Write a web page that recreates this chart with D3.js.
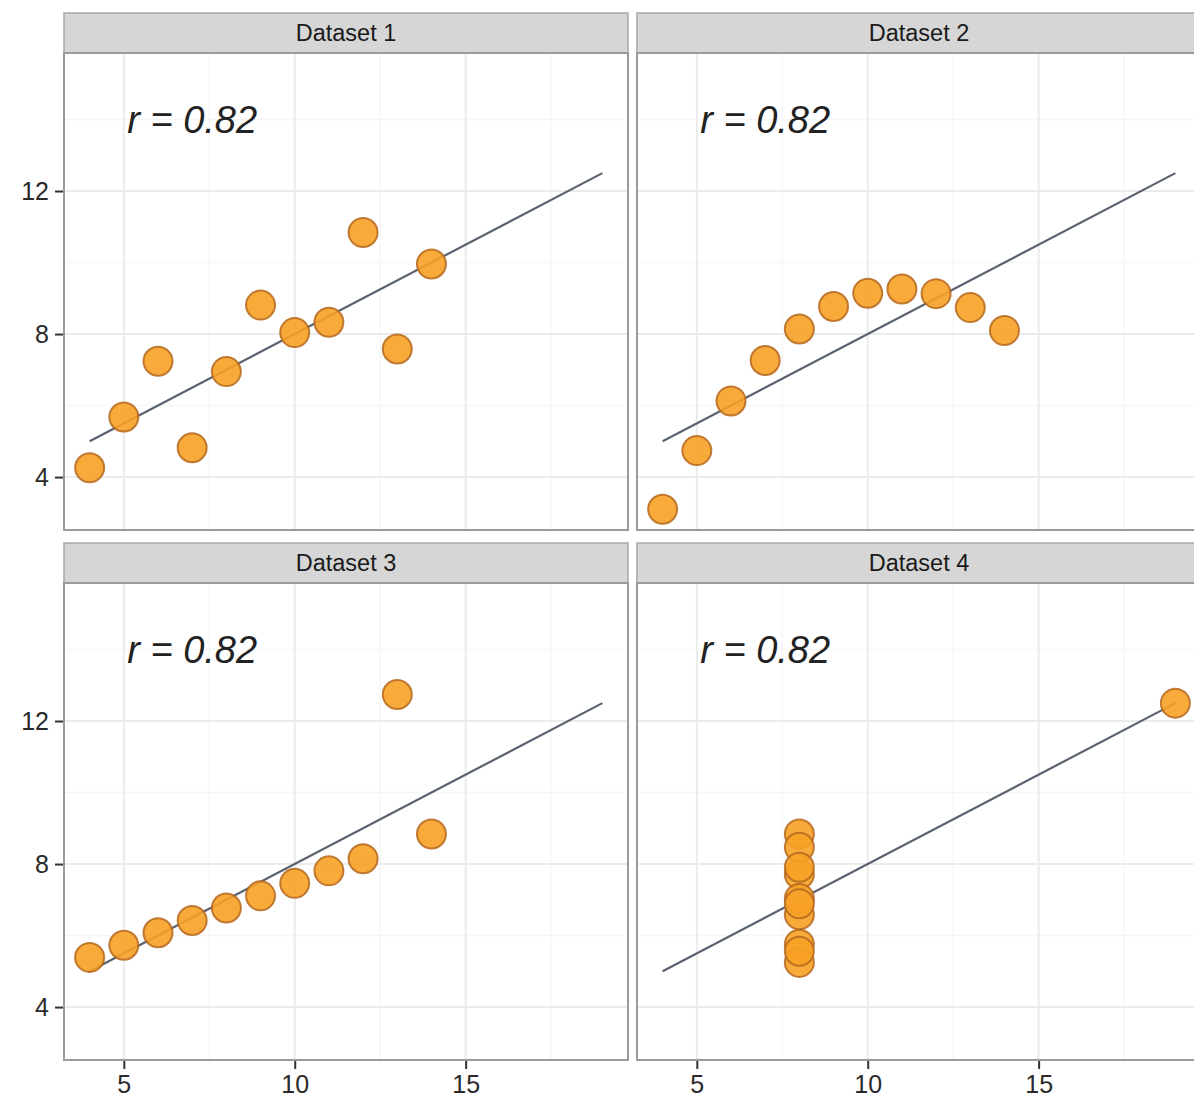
<!DOCTYPE html>
<html>
<head>
<meta charset="utf-8">
<script src="https://cdn.jsdelivr.net/npm/d3@7"></script>
<style>
  body { margin: 0; background: #ffffff; }
  svg { display: block; font-family: "Liberation Sans", Arimo, Arial, sans-serif; }
</style>
</head>
<body>
<svg id="svg" width="1194" height="1109"></svg>
<script>
// Anscombe's quartet values
const X_VALUES = [10, 8, 13, 9, 11, 14, 6, 4, 12, 7, 5];
const X4_VALUES = [8, 8, 8, 8, 8, 8, 8, 19, 8, 8, 8];
const Y1 = [8.04, 6.95, 7.58, 8.81, 8.33, 9.96, 7.24, 4.26, 10.84, 4.82, 5.68];
const Y2 = [9.14, 8.14, 8.74, 8.77, 9.26, 8.10, 6.13, 3.10, 9.13, 7.26, 4.74];
const Y3 = [7.46, 6.77, 12.74, 7.11, 7.81, 8.84, 6.08, 5.39, 8.15, 6.42, 5.73];
const Y4 = [6.58, 5.76, 7.71, 8.84, 8.47, 7.04, 5.25, 12.50, 5.56, 7.91, 6.89];

const TITLES = ["Dataset 1", "Dataset 2", "Dataset 3", "Dataset 4"];
const LABEL = "r = 0.82";
const X_TICKS = [5, 10, 15];
const X_MINOR = [7.5, 12.5, 17.5];
const Y_TICKS = [4, 8, 12];
const Y_MINOR = [6, 10, 14];
// fitted line y = 3 + 0.5x, drawn over x = 4..19
const FIT_X = [4, 19];
const FIT_A = 3, FIT_B = 0.5;

const panelsData = [
  {title: TITLES[0], xs: X_VALUES, ys: Y1},
  {title: TITLES[1], xs: X_VALUES, ys: Y2},
  {title: TITLES[2], xs: X_VALUES, ys: Y3},
  {title: TITLES[3], xs: X4_VALUES, ys: Y4}
];

//Layout
const PANEL_W = 564;
const PANEL_H = 477;
const STRIP_H = 40;
const COL_X = [64, 637];
const ROW_Y = [13, 543];

const svg = d3.select("#svg");

panelsData.forEach((p, i) => {
  const col = i % 2, row = Math.floor(i / 2);
  const left = COL_X[col];
  const top = ROW_Y[row] + STRIP_H;

  const x = d3.scaleLinear().domain([3.25, 19.75]).range([left, left + PANEL_W]);
  const y = d3.scaleLinear().domain([2.52, 15.86]).range([top + PANEL_H, top]);

  const g = svg.append("g");

  //Strip
  g.append("rect")
    .attr("x", left).attr("y", ROW_Y[row])
    .attr("width", PANEL_W).attr("height", STRIP_H)
    .attr("fill", "#d6d6d6")
    .attr("stroke", "#a8a8a8").attr("stroke-width", 1.5);
  g.append("text")
    .attr("x", left + PANEL_W / 2).attr("y", ROW_Y[row] + STRIP_H / 2)
    .attr("text-anchor", "middle").attr("dominant-baseline", "central")
    .attr("font-size", 23.5).attr("fill", "#1a1a1a")
    .text(p.title);

  //Panel background
  g.append("rect")
    .attr("x", left).attr("y", top)
    .attr("width", PANEL_W).attr("height", PANEL_H)
    .attr("fill", "#ffffff");

  //Grid
  g.selectAll(".vminor").data(X_MINOR).enter().append("line")
    .attr("x1", d => x(d)).attr("x2", d => x(d))
    .attr("y1", top).attr("y2", top + PANEL_H)
    .attr("stroke", "#f6f6f6").attr("stroke-width", 1.5);
  g.selectAll(".hminor").data(Y_MINOR).enter().append("line")
    .attr("x1", left).attr("x2", left + PANEL_W)
    .attr("y1", d => y(d)).attr("y2", d => y(d))
    .attr("stroke", "#f6f6f6").attr("stroke-width", 1.5);
  g.selectAll(".vmajor").data(X_TICKS).enter().append("line")
    .attr("x1", d => x(d)).attr("x2", d => x(d))
    .attr("y1", top).attr("y2", top + PANEL_H)
    .attr("stroke", "#ebebeb").attr("stroke-width", 2);
  g.selectAll(".hmajor").data(Y_TICKS).enter().append("line")
    .attr("x1", left).attr("x2", left + PANEL_W)
    .attr("y1", d => y(d)).attr("y2", d => y(d))
    .attr("stroke", "#ebebeb").attr("stroke-width", 2);

  //Correlation label
  g.append("text")
    .attr("x", x(7)).attr("y", y(14))
    .attr("text-anchor", "middle").attr("dominant-baseline", "central")
    .attr("font-size", 38).attr("font-style", "italic").attr("fill", "#222")
    .text(LABEL);

  //Fit line
  const line = d3.line().x(d => x(d)).y(d => y(FIT_A + FIT_B * d));
  g.append("path")
    .attr("d", line(FIT_X))
    .attr("fill", "none")
    .attr("stroke", "#5a6270").attr("stroke-width", 2.2);

  //Points
  g.selectAll("circle").data(p.xs.map((d, j) => [d, p.ys[j]])).enter().append("circle")
    .attr("cx", d => x(d[0])).attr("cy", d => y(d[1]))
    .attr("r", 14.5)
    .attr("fill", "#f7a126").attr("fill-opacity", 0.9)
    .attr("stroke", "#b5691f").attr("stroke-width", 2).attr("stroke-opacity", 0.85);

  //Panel border
  g.append("rect")
    .attr("x", left).attr("y", top)
    .attr("width", PANEL_W).attr("height", PANEL_H)
    .attr("fill", "none")
    .attr("stroke", "#9a9a9a").attr("stroke-width", 2);

  //Axes
  if (col === 0) {
    const yAxis = d3.axisLeft(y).tickValues(Y_TICKS).tickSize(8).tickPadding(6);
    const ay = g.append("g").attr("transform", "translate(" + (left - 1) + ",0)").call(yAxis);
    ay.select(".domain").remove();
    ay.selectAll("line").attr("stroke", "#333").attr("stroke-width", 2);
    ay.selectAll("text").attr("font-size", 25).attr("fill", "#2a2a2a")
      .attr("font-family", "Liberation Sans, Arimo, Arial, sans-serif");
  }
  if (row === 1) {
    const xAxis = d3.axisBottom(x).tickValues(X_TICKS).tickSize(8).tickPadding(6);
    const ax = g.append("g").attr("transform", "translate(0," + (top + PANEL_H + 1) + ")").call(xAxis);
    ax.select(".domain").remove();
    ax.selectAll("line").attr("stroke", "#333").attr("stroke-width", 2);
    ax.selectAll("text").attr("font-size", 25).attr("fill", "#2a2a2a")
      .attr("font-family", "Liberation Sans, Arimo, Arial, sans-serif");
  }
});
</script>
</body>
</html>
